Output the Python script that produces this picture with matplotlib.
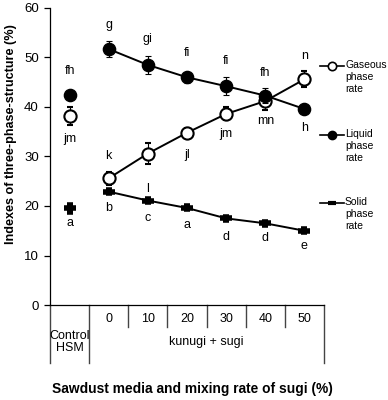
import matplotlib
matplotlib.use("Agg")
import matplotlib.pyplot as plt
import numpy as np

plt.rcParams['font.family'] = ['Liberation Sans', 'DejaVu Sans']

categories = ["Control\nHSM", "0", "10", "20", "30", "40", "50"]
gaseous = [38.2, 25.6, 30.6, 34.8, 38.6, 41.2, 45.6]
gaseous_err = [1.9, 1.3, 2.1, 1.0, 1.3, 1.8, 1.6]
liquid = [42.5, 51.7, 48.5, 46.0, 44.2, 42.3, 39.6]
liquid_err = [0.8, 1.6, 1.8, 1.1, 1.8, 1.5, 0.8]
solid = [19.5, 22.9, 21.1, 19.6, 17.5, 16.5, 15.0]
solid_err = [0.8, 0.3, 0.3, 0.3, 0.3, 0.3, 0.3]

gas_letters = ["jm", "k", "l", "jl", "jm", "mn", "n"]
gas_offsets = [-23, 22, -35, -22, -20, -20, 23]
liq_letters = ["fh", "g", "gi", "fi", "fi", "fh", "h"]
liq_offsets = [24, 24, 26, 24, 25, 23, -19]
sol_letters = ["a", "b", "c", "a", "d", "d", "e"]
sol_offsets = [-15, -16, -17, -17, -19, -15, -15]

fig = plt.figure(figsize=(3.88, 4.0), dpi=100)
ax = fig.add_axes([50/388, 1-305/400, 274/388, 297/400])
ax.set_xlim(0, 7)
ax.set_ylim(0, 60)

x = np.arange(7) + 0.5
ms = 8.8
lw = 1.4
ecap = dict(ecolor='black', elinewidth=0.8, capsize=2.5, capthick=0.8)

# control points (not connected)
ax.errorbar(x[:1], gaseous[:1], yerr=gaseous_err[:1], fmt='o', mfc='white', mec='black',
            mew=1.5, ms=ms, zorder=3, **ecap)
ax.errorbar(x[:1], liquid[:1], yerr=liquid_err[:1], fmt='o', mfc='black', mec='black',
            ms=ms, zorder=3, **ecap)
ax.errorbar(x[:1], solid[:1], yerr=solid_err[:1], fmt='_', color='black', mew=4, ms=9,
            zorder=3, **ecap)

# connected series
ax.errorbar(x[1:], gaseous[1:], yerr=gaseous_err[1:], fmt='-o', color='black', lw=lw,
            mfc='white', mec='black', mew=1.5, ms=ms, zorder=3, **ecap)
ax.errorbar(x[1:], liquid[1:], yerr=liquid_err[1:], fmt='-o', color='black', lw=lw,
            mfc='black', mec='black', ms=ms, zorder=4, **ecap)
ax.errorbar(x[1:], solid[1:], yerr=solid_err[1:], fmt='-_', color='black', lw=lw,
            mew=4, ms=9, zorder=3, **ecap)

def letters(vals, labs, offs):
    for xi, v, t, o in zip(x, vals, labs, offs):
        ax.annotate(t, (xi, v), xytext=(0, o*0.72), textcoords='offset points',
                    ha='center', va='center', fontsize=9)

letters(gaseous, gas_letters, gas_offsets)
letters(liquid, liq_letters, liq_offsets)
letters(solid, sol_letters, sol_offsets)

# axes styling
for s in ['top', 'right']:
    ax.spines[s].set_visible(False)
ax.spines['left'].set_linewidth(0.9)
ax.spines['bottom'].set_linewidth(0.9)
ax.set_yticks([0, 10, 20, 30, 40, 50, 60])
ax.tick_params(axis='y', direction='out', length=4, width=0.9, labelsize=9.5, pad=4)
ax.set_xticks([])

# category labels and separators below axis
trans = ax.get_xaxis_transform()
for i, c in enumerate(categories):
    if i == 0:
        ax.text(x[i], -37/297, c, transform=trans, ha='center', va='center',
                fontsize=9, linespacing=1.05)
    else:
        ax.text(x[i], -14/297, c, transform=trans, ha='center', va='center', fontsize=9)
ax.text(np.mean(x[1:]), -37/297, "kunugi + sugi", transform=trans, ha='center',
        va='center', fontsize=9)
for b in range(8):
    long = b in (0, 1, 7)
    ax.plot([b, b], [0, -(58 if long else 22)/297], transform=trans, color='#444444',
            lw=1.0, clip_on=False)

fig.text(11/388, 1-134/400, "Indexes of three-phase-structure (%)", rotation=90,
         ha='center', va='center', fontsize=9.1, fontweight='bold')
fig.text(192/388, 1-389/400, "Sawdust media and mixing rate of sugi (%)", ha='center',
         va='center', fontsize=9.9, fontweight='bold')

# manual legend
legend_items = [("Gaseous\nphase\nrate", dict(marker='o', mfc='white', mec='black', ms=6, mew=1.2)),
                ("Liquid\nphase\nrate", dict(marker='o', mfc='black', mec='black', ms=6)),
                ("Solid\nphase\nrate", dict(marker='_', mew=3, ms=6, color='black'))]
ly = [66, 135, 203]
for (lab, kw), yy in zip(legend_items, ly):
    fy = 1 - yy/400
    line = plt.Line2D([320/388, 344/388], [fy, fy], transform=fig.transFigure,
                      color='black', lw=1.2)
    fig.add_artist(line)
    mk = plt.Line2D([332/388], [fy], transform=fig.transFigure, linestyle='none', **kw)
    fig.add_artist(mk)
    fig.text(345/388, fy + 6/400, lab, ha='left', va='top', fontsize=7.5, linespacing=1.25)

fig.savefig("out.png", dpi=100)
